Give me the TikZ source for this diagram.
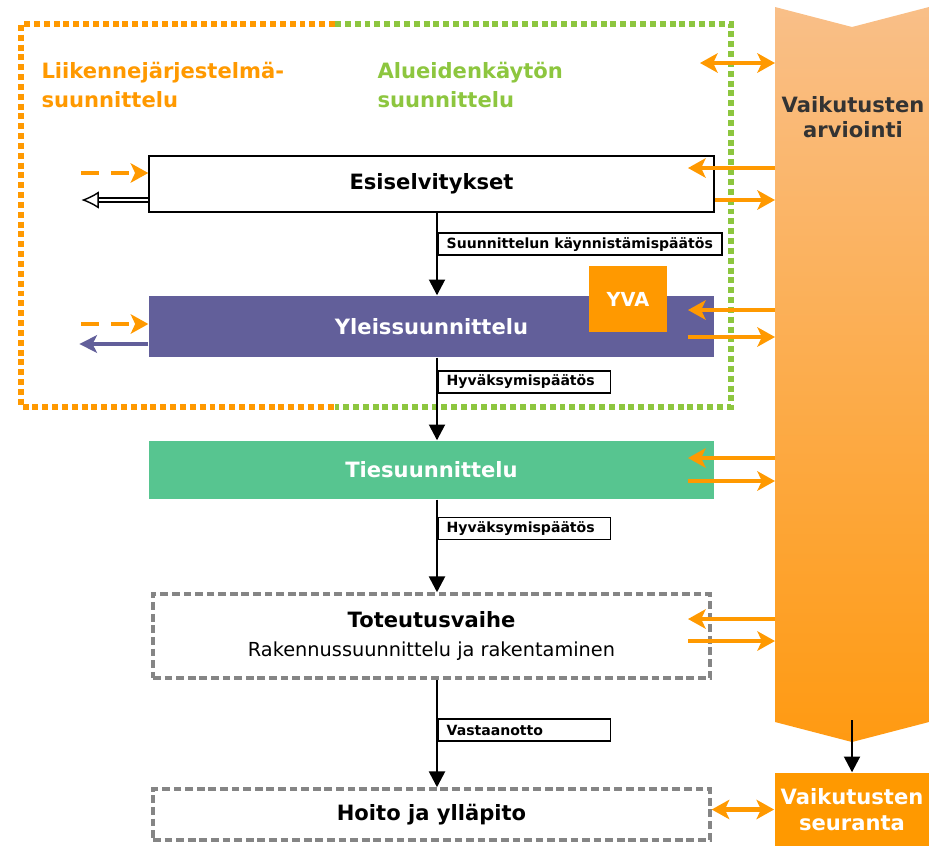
\documentclass[tikz,border=0pt]{standalone}
\usepackage{fontspec}
\setmainfont{DejaVu Sans}
\usetikzlibrary{arrows.meta}
\definecolor{frameorange}{HTML}{FF9900}
\definecolor{framegreen}{HTML}{8DC63F}
\definecolor{planpurple}{HTML}{625F9A}
\definecolor{roadgreen}{HTML}{57C590}
\definecolor{bandtop}{HTML}{F9BF88}
\definecolor{bandmid}{HTML}{FCA04C}
\definecolor{bandbottom}{HTML}{FF9A12}
\definecolor{phasegray}{HTML}{858585}

\begin{document}
\begin{tikzpicture}[x=0.02cm, y=-0.02cm, thick,
    phase node/.style={rectangle, minimum width=11.3cm, font=\bfseries\fontsize{12}{14}\selectfont},
    open node/.style={phase node, draw=phasegray, line width=2pt, dash pattern=on 4.4pt off 2.2pt,
                      minimum width=11.14cm, align=center},
    step label/.style={draw, fill=white, line width=1pt, anchor=west, inner xsep=5pt, inner ysep=1pt,
                       minimum height=0.44cm, font=\bfseries\fontsize{8}{9}\selectfont},
    flow arrow/.style={draw=black, line width=1.5pt, -{Triangle[length=9pt,width=9pt]}},
    band arrow/.style={draw=frameorange, line width=2.8pt, -{Stealth[length=10pt,width=11pt,inset=2.5pt]}},
    both arrow/.style={draw=frameorange, line width=2.8pt,
                       {Stealth[length=10pt,width=11pt,inset=2.5pt]}-{Stealth[length=10pt,width=11pt,inset=2.5pt]}},
    in arrow/.style={band arrow, dash pattern=on 10pt off 7pt},
    frame line/.style={line width=3.4pt, dash pattern=on 3.4pt off 2.2pt},
    group title/.style={anchor=west, align=left, font=\bfseries\fontsize{12}{17}\selectfont}]

  \useasboundingbox (0,0) rectangle (929,846);

  \draw[frame line, frameorange] (335,24) -- (21,24) -- (21,407) -- (335,407);
  \draw[frame line, framegreen] (335,24) -- (731,24) -- (731,407) -- (335,407);
  \node[group title, text=frameorange] (liik) at (35,85) {Liikennejärjestelmä-\\suunnittelu};
  \node[group title, text=framegreen] (alue) at (371,85) {Alueidenkäytön\\suunnittelu};

  \shade[top color=bandtop, middle color=bandmid, bottom color=bandbottom]
    (775,7) -- (852,27) -- (929,7) -- (929,722) -- (852,742) -- (775,722) -- cycle;
  \node[align=center, text=black!80, font=\bfseries\fontsize{12}{14}\selectfont] (arv) at (853,117) {Vaikutusten\\arviointi};
  \coordinate (bandw) at (775,0);
  \coordinate (inner) at (688,0);
  \coordinate (spine) at (437,0);
  \coordinate (topend) at (700,63);

  \node[phase node, draw, fill=white, line width=0.9pt, minimum height=1.12cm] (esi) at (431.5,184) {Esiselvitykset};
  \node[phase node, fill=planpurple, text=white, minimum height=1.22cm] (yleis) at (431.5,326.5) {Yleissuunnittelu};
  \node[fill=frameorange, text=white, minimum width=1.56cm, minimum height=1.32cm,
        font=\bfseries\fontsize{11}{13}\selectfont] (yva) at (628,299) {YVA};
  \node[phase node, fill=roadgreen, text=white, minimum height=1.16cm] (ties) at (431.5,470) {Tiesuunnittelu};
  \node[open node, minimum height=1.68cm] (tot) at (431.5,636)
    {Toteutusvaihe\\[2pt]{\mdseries\fontsize{11}{13}\selectfont Rakennussuunnittelu ja rakentaminen}};
  \node[open node, minimum height=1.02cm] (hoito) at (431.5,814.5) {Hoito ja ylläpito};
  \node[fill=frameorange, text=white, align=center, minimum width=3.08cm, minimum height=1.46cm,
        font=\bfseries\fontsize{12}{15}\selectfont] (seur) at (852,809.5) {Vaikutusten\\seuranta};

  \path
  (esi.south -| spine) edge[flow arrow] node[step label, pos=0.38] {Suunnittelun käynnistämispäätös} (yleis.north -| spine)
  (yleis.south -| spine) edge[flow arrow] node[step label, pos=0.29, text width=3.1cm] {Hyväksymispäätös} (ties.north -| spine)
  (ties.south -| spine) edge[flow arrow] node[step label, pos=0.31, text width=3.1cm] {Hyväksymispäätös} (tot.north -| spine)
  (tot.south -| spine) edge[flow arrow] node[step label, pos=0.47, text width=3.1cm] {Vastaanotto} (hoito.north -| spine)
  (seur.north |- 0,720) edge[flow arrow] (seur.north)
  ;

  \path
  (bandw |- 0,168) edge[band arrow] (inner |- 0,168)
  (esi.east |- 0,200) edge[band arrow] (bandw |- 0,200)
  (bandw |- 0,310) edge[band arrow] (inner |- 0,310)
  (inner |- 0,337) edge[band arrow] (bandw |- 0,337)
  (bandw |- 0,458) edge[band arrow] (inner |- 0,458)
  (inner |- 0,481) edge[band arrow] (bandw |- 0,481)
  (bandw |- 0,619) edge[band arrow] (inner |- 0,619)
  (inner |- 0,641) edge[band arrow] (bandw |- 0,641)
  (topend) edge[both arrow] (bandw |- topend)
  (hoito.east |- seur.west) edge[both arrow] (seur.west)
  ;

  \path
  ([xshift=-1.34cm]esi.west |- 0,173) edge[in arrow] (esi.west |- 0,173)
  ([xshift=-1.34cm]yleis.west |- 0,324) edge[in arrow] (yleis.west |- 0,324)
  (esi.west |- 0,200) edge[line width=0.8pt, double=white, double distance=1.6pt,
                           -{Latex[open,length=10pt,width=10pt]}] ([xshift=-1.34cm]esi.west |- 0,200)
  (yleis.west |- 0,344) edge[planpurple, line width=2.8pt, -{Stealth[length=10pt,width=10pt,inset=2.5pt]}]
                           ([xshift=-1.38cm]yleis.west |- 0,344)
  ;
\end{tikzpicture}
\end{document}
